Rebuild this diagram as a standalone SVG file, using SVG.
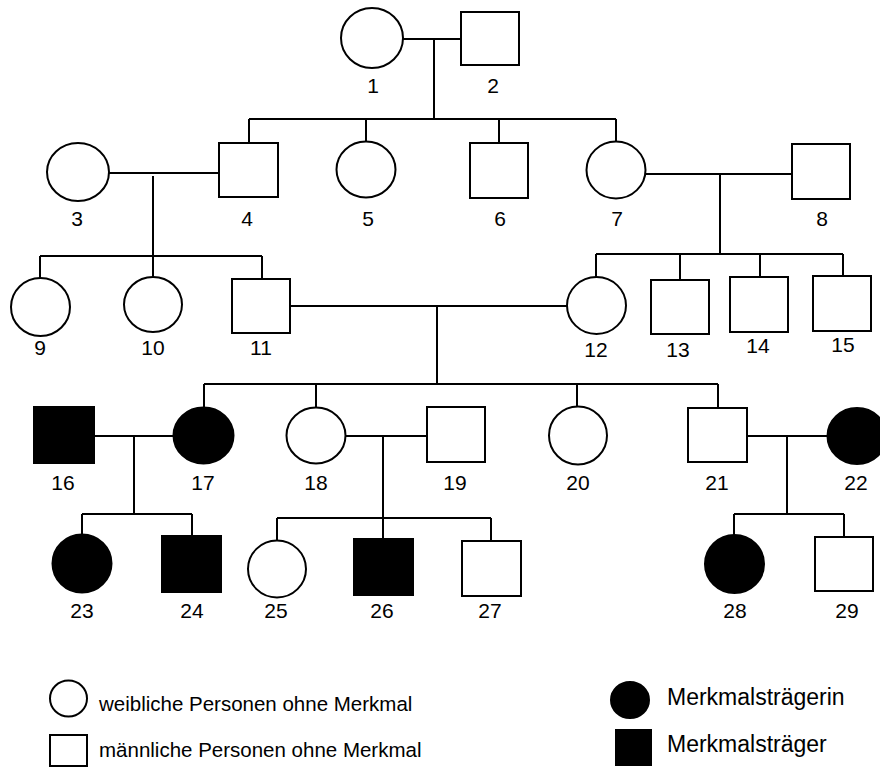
<svg xmlns="http://www.w3.org/2000/svg" width="880" height="767" viewBox="0 0 880 767">
<style>
.s{fill:#fff;stroke:#000;stroke-width:2}
.a{fill:#000;stroke:#000;stroke-width:2}
.c{fill:none;stroke:#000;stroke-width:2}
.t{font-family:"Liberation Sans",Arial,sans-serif;font-size:21px;fill:#000;text-anchor:middle}
.l{font-family:"Liberation Sans",Arial,sans-serif;font-size:20.5px;fill:#000}
.r{font-family:"Liberation Sans",Arial,sans-serif;font-size:23px;fill:#000}
</style>
<rect width="880" height="767" fill="#fff"/>
<g id="connectors" class="c">
<path d="M403 39H461M434 39V119"/>
<path d="M249 119H616M249 119V143M366 119V142M499 119V143M616 119V142"/>
<path d="M108 173H219M153 176V256"/>
<path d="M40 256H262M40 256V278M153 256V277M262 256V279"/>
<path d="M646 174H792M720 174V254"/>
<path d="M596 254H843M596 254V277M680 254V280M760 254V277M843 254V276"/>
<path d="M290 306H567M437 306V384"/>
<path d="M204 384H718M204 384V407M316 384V408M577 384V407M718 384V408"/>
<path d="M94 436H173M134 436V514M82 514H192M82 514V534M192 514V536"/>
<path d="M346 436H427M383 436V518M277 518H491M277 518V541M383 518V539M491 518V541"/>
<path d="M747 436H828M787 436V514M734 514H844M734 514V535M844 514V537"/>
</g>
<g id="n1"><ellipse class="s" cx="372" cy="38" rx="31" ry="30"/><text class="t" x="373" y="93">1</text></g>
<g id="n2"><rect class="s" x="461" y="12" width="58" height="53"/><text class="t" x="493" y="93">2</text></g>
<g id="n3"><ellipse class="s" cx="78" cy="172" rx="31" ry="29"/><text class="t" x="77" y="226">3</text></g>
<g id="n4"><rect class="s" x="219" y="143" width="59" height="54"/><text class="t" x="247" y="226">4</text></g>
<g id="n5"><ellipse class="s" cx="366" cy="169.5" rx="29.5" ry="28"/><text class="t" x="368" y="226">5</text></g>
<g id="n6"><rect class="s" x="470" y="143" width="58" height="55"/><text class="t" x="500" y="226">6</text></g>
<g id="n7"><ellipse class="s" cx="616" cy="170" rx="29.5" ry="28.5"/><text class="t" x="617" y="226">7</text></g>
<g id="n8"><rect class="s" x="792" y="144" width="58" height="55"/><text class="t" x="822" y="226">8</text></g>
<g id="n9"><ellipse class="s" cx="40.5" cy="307" rx="29.5" ry="29"/><text class="t" x="40" y="355">9</text></g>
<g id="n10"><ellipse class="s" cx="153" cy="304.5" rx="29" ry="27.5"/><text class="t" x="153" y="355">10</text></g>
<g id="n11"><rect class="s" x="232" y="279" width="58" height="54"/><text class="t" x="261" y="355">11</text></g>
<g id="n12"><ellipse class="s" cx="596.5" cy="305.5" rx="29.5" ry="28.5"/><text class="t" x="596" y="357">12</text></g>
<g id="n13"><rect class="s" x="651" y="280" width="58" height="54"/><text class="t" x="678" y="357">13</text></g>
<g id="n14"><rect class="s" x="730" y="277" width="58" height="55"/><text class="t" x="758" y="353">14</text></g>
<g id="n15"><rect class="s" x="813" y="276" width="58" height="55"/><text class="t" x="843" y="352">15</text></g>
<g id="n16"><rect class="a" x="34" y="407" width="60" height="56"/><text class="t" x="63" y="490">16</text></g>
<g id="n17"><ellipse class="a" cx="203.5" cy="435.5" rx="30" ry="28"/><text class="t" x="203" y="490">17</text></g>
<g id="n18"><ellipse class="s" cx="316" cy="435.5" rx="29.5" ry="28"/><text class="t" x="316" y="490">18</text></g>
<g id="n19"><rect class="s" x="427" y="407" width="58" height="55"/><text class="t" x="455" y="490">19</text></g>
<g id="n20"><ellipse class="s" cx="578" cy="435.5" rx="29" ry="29"/><text class="t" x="578" y="490">20</text></g>
<g id="n21"><rect class="s" x="688" y="408" width="59" height="54"/><text class="t" x="717" y="490">21</text></g>
<g id="n22"><ellipse class="a" cx="857" cy="436" rx="29.5" ry="28"/><text class="t" x="856" y="490">22</text></g>
<g id="n23"><ellipse class="a" cx="82" cy="563.5" rx="29.5" ry="29"/><text class="t" x="82" y="618">23</text></g>
<g id="n24"><rect class="a" x="162" y="536" width="59" height="56"/><text class="t" x="192" y="618">24</text></g>
<g id="n25"><ellipse class="s" cx="277" cy="569" rx="29" ry="28.5"/><text class="t" x="276" y="618">25</text></g>
<g id="n26"><rect class="a" x="354" y="539" width="59" height="56"/><text class="t" x="382" y="618">26</text></g>
<g id="n27"><rect class="s" x="462" y="541" width="59" height="55"/><text class="t" x="490" y="618">27</text></g>
<g id="n28"><ellipse class="a" cx="734.5" cy="564" rx="29.5" ry="29"/><text class="t" x="735" y="618">28</text></g>
<g id="n29"><rect class="s" x="815" y="537" width="58" height="54"/><text class="t" x="847" y="618">29</text></g>
<g id="legend">
<ellipse class="s" cx="68.5" cy="698.5" rx="18.5" ry="18"/>
<text class="l" x="99" y="711">weibliche Personen ohne Merkmal</text>
<rect class="s" x="50" y="735" width="37" height="31"/>
<text class="l" x="99" y="757">männliche Personen ohne Merkmal</text>
<ellipse class="a" cx="630" cy="700" rx="19" ry="18"/>
<text class="r" x="667" y="705">Merkmalsträgerin</text>
<rect class="a" x="616" y="730" width="35" height="35"/>
<text class="r" x="667" y="752">Merkmalsträger</text>
</g>
</svg>
